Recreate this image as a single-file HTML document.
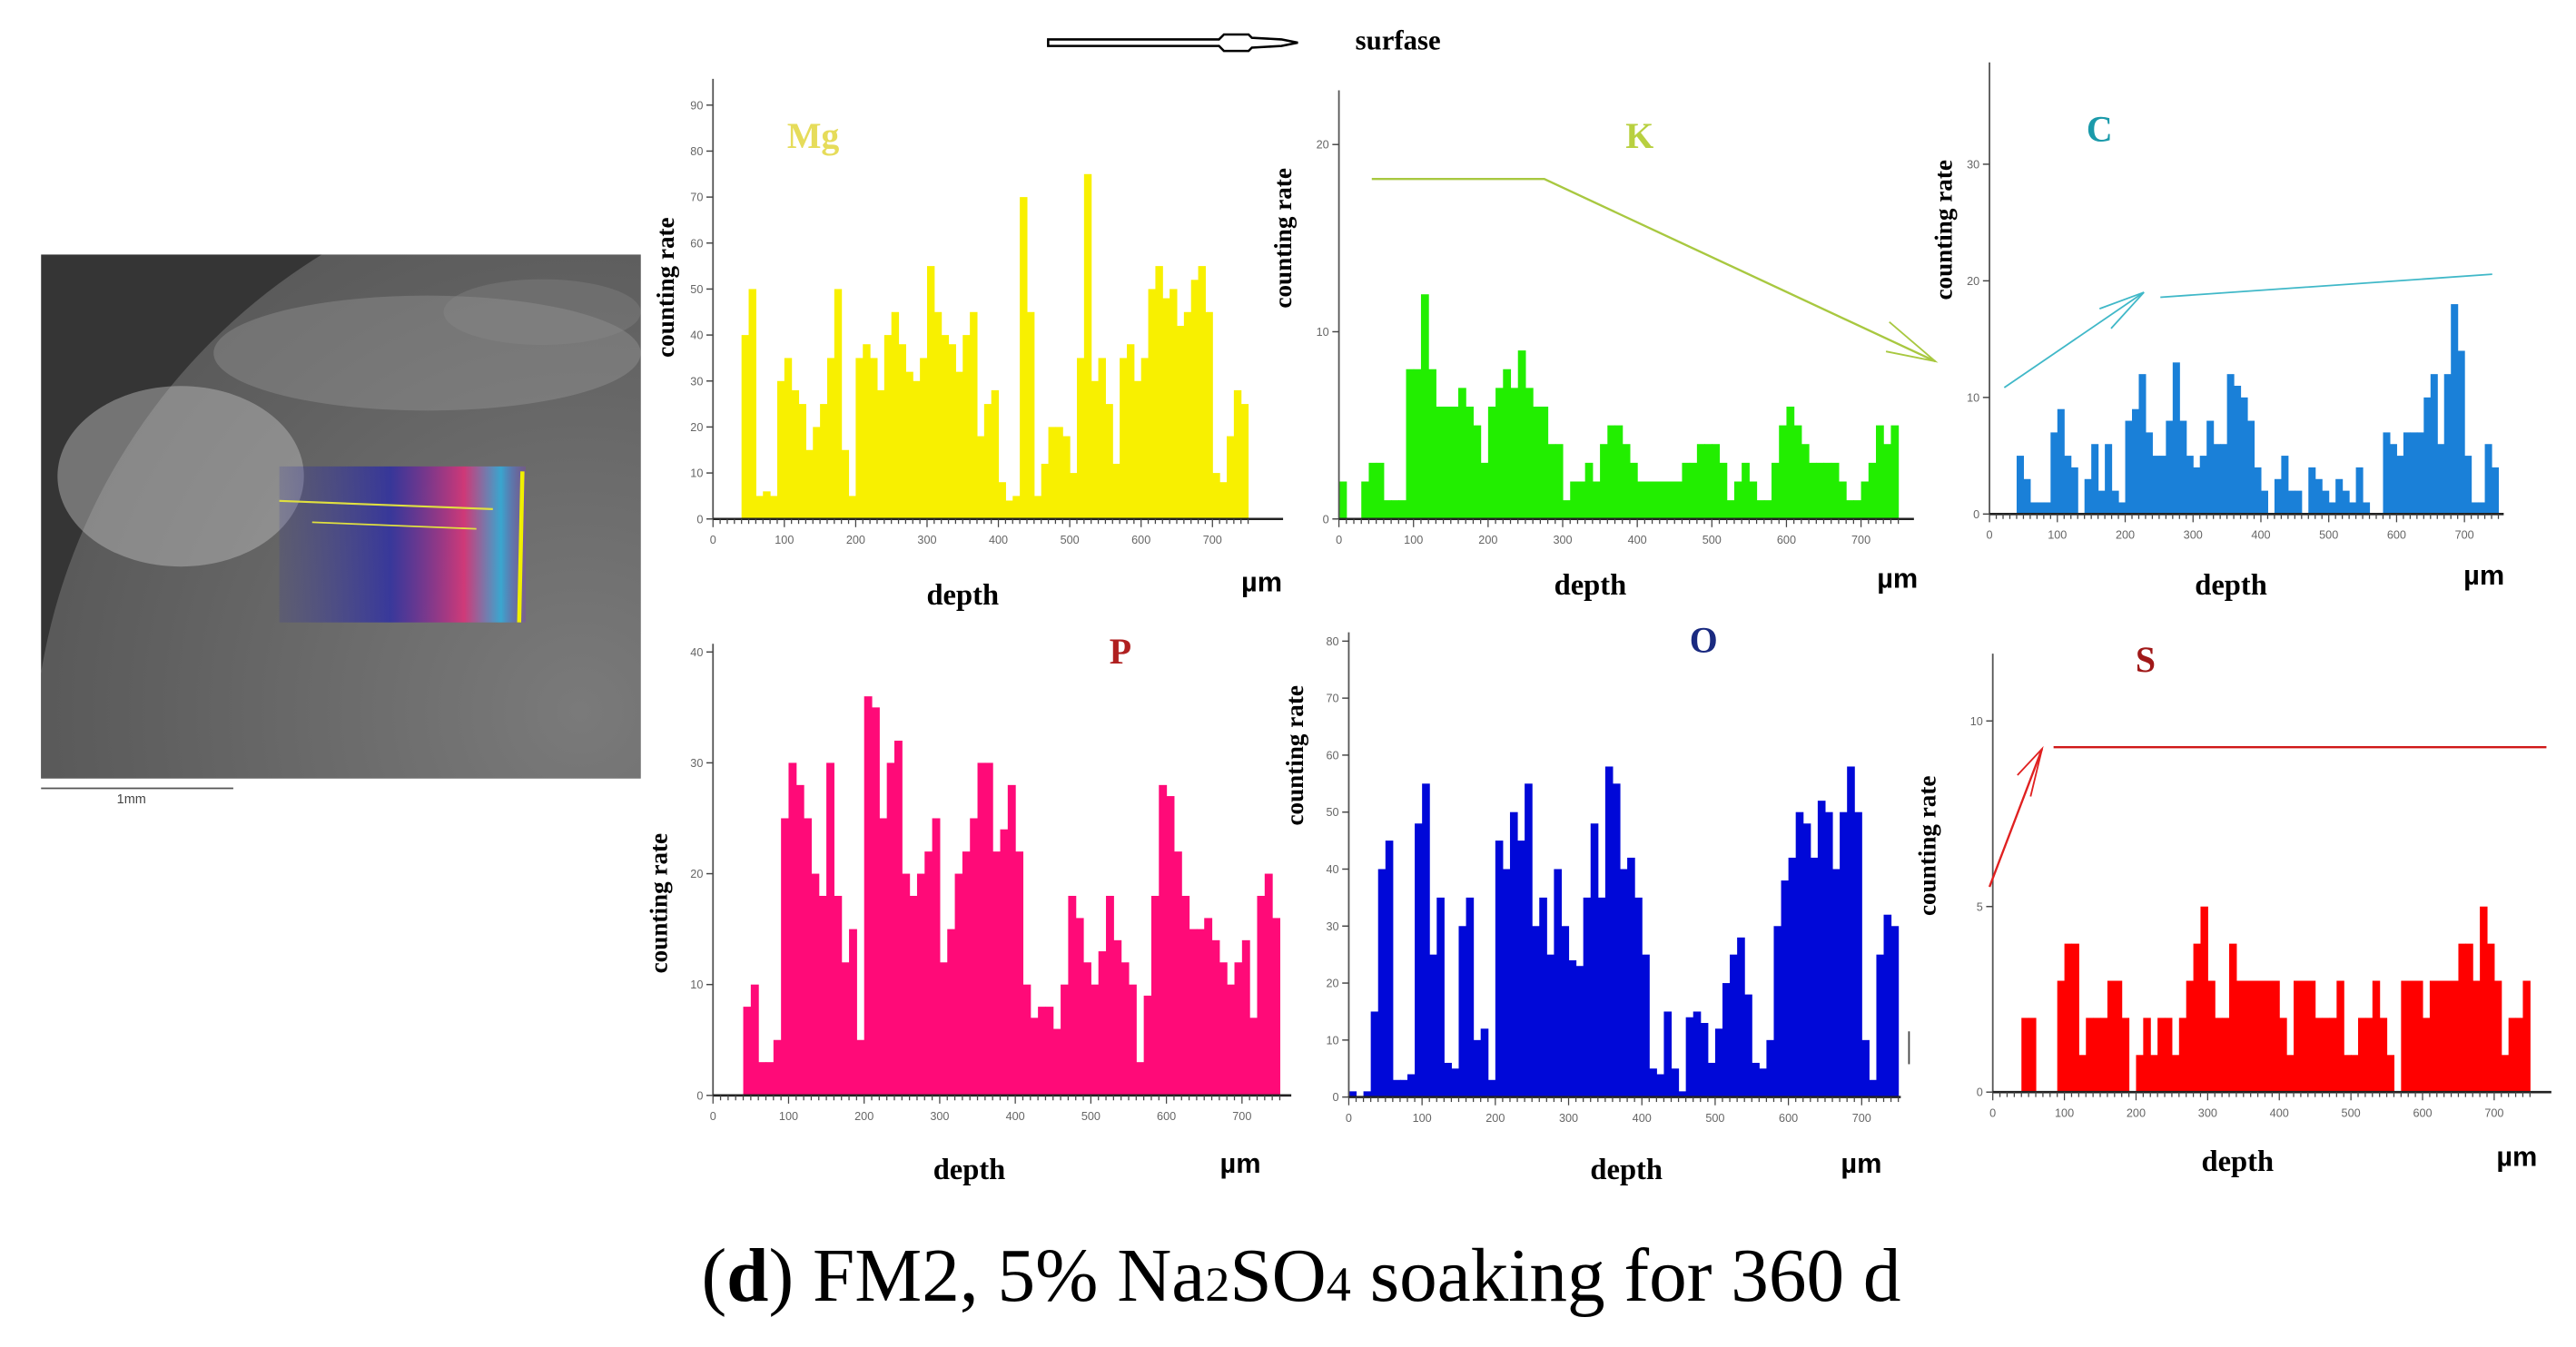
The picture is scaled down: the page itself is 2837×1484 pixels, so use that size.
<!DOCTYPE html>
<html><head><meta charset="utf-8">
<style>
html,body{margin:0;padding:0;background:#fff;}
svg{display:block;}
text{font-family:"Liberation Serif",serif;}
</style></head>
<body>
<svg id="fig" width="2837" height="1484" viewBox="0 0 1568 820.2" xmlns="http://www.w3.org/2000/svg">
<defs>
<radialGradient id="semg" cx="0.45" cy="0.45" r="0.7">
<stop offset="0" stop-color="#7a7a7a"/><stop offset="0.5" stop-color="#606060"/><stop offset="1" stop-color="#484848"/>
</radialGradient>
<linearGradient id="streak" x1="0" x2="1" y1="0" y2="0">
<stop offset="0" stop-color="#3030a0" stop-opacity="0.2"/><stop offset="0.45" stop-color="#2020b0" stop-opacity="0.8"/><stop offset="0.75" stop-color="#e0307a"/><stop offset="0.9" stop-color="#30b0e0"/><stop offset="1" stop-color="#8040c0" stop-opacity="0.4"/>
</linearGradient>
<clipPath id="semclip"><rect x="25" y="155" width="365" height="319"/></clipPath>
</defs>
<g>
<rect x="25" y="155" width="365" height="319" fill="#353535"/>
<g clip-path="url(#semclip)">
<circle cx="390" cy="470" r="370" fill="url(#semg)"/>
<ellipse cx="110" cy="290" rx="75" ry="55" fill="#c0c0c0" opacity="0.45"/>
<ellipse cx="260" cy="215" rx="130" ry="35" fill="#a0a0a0" opacity="0.35"/>
<ellipse cx="330" cy="190" rx="60" ry="20" fill="#909090" opacity="0.3"/>
<rect x="170" y="284" width="150" height="95" fill="url(#streak)" opacity="0.85"/>
<line x1="170" y1="305" x2="300" y2="310" stroke="#e0e040" stroke-width="1.2"/>
<line x1="190" y1="318" x2="290" y2="322" stroke="#e0e040" stroke-width="1"/>
<line x1="318" y1="287" x2="316" y2="379" stroke="#f0f000" stroke-width="2.5"/>
</g>
<line x1="25" y1="480" x2="142" y2="480" stroke="#555" stroke-width="1"/>
<text x="80" y="489" font-size="8" fill="#444" text-anchor="middle" style="font-family:'Liberation Sans',sans-serif">1mm</text>
</g>
<g>
<path d="M638,24 L742,24 L745,21 L760,21 L762,23 L780,24 L790,26 L780,28 L762,29 L760,31 L745,31 L742,28 L638,28 Z" fill="#fff" stroke="#000" stroke-width="1.4"/>
<text x="825" y="30" font-size="17" font-weight="bold">surfase</text>
</g>
<g id="panels"></g>
<text x="792" y="792" font-size="46" text-anchor="middle">(<tspan font-weight="bold">d</tspan>) FM2, 5% Na<tspan font-size="30">2</tspan>SO<tspan font-size="30">4</tspan> soaking for 360 d</text>
</svg>
<script>
var depths = [];
for (var d = 0; d <= 740; d += 10) depths.push(d);
var xTicks = [0,100,200,300,400,500,600,700];
var mgValues = [0,0,0,0,40,50,5,6,5,30,35,28,25,15,20,25,35,50,15,5,35,38,35,28,40,45,38,32,30,35,55,45,40,38,32,40,45,18,25,28,8,4,5,70,45,5,12,20,20,18,10,35,75,30,35,25,12,35,38,30,35,50,55,48,50,42,45,52,55,45,10,8,18,28,25];
var kValues = [2,0,0,2,3,3,1,1,1,8,8,12,8,6,6,6,7,6,5,3,6,7,8,7,9,7,6,6,4,4,1,2,2,3,2,4,5,5,4,3,2,2,2,2,2,2,3,3,4,4,4,3,1,2,3,2,1,1,3,5,6,5,4,3,3,3,3,2,1,1,2,3,5,4,5];
var cValues = [0,0,0,0,5,3,1,1,1,7,9,5,4,0,3,6,2,6,2,1,8,9,12,7,5,5,8,13,8,5,4,5,8,6,6,12,11,10,8,4,2,0,3,5,2,2,0,4,3,2,1,3,2,1,4,1,0,0,7,6,5,7,7,7,10,12,6,12,18,14,5,1,1,6,4];
var pValues = [0,0,0,0,8,10,3,3,5,25,30,28,25,20,18,30,18,12,15,5,36,35,25,30,32,20,18,20,22,25,12,15,20,22,25,30,30,22,24,28,22,10,7,8,8,6,10,18,16,12,10,13,18,14,12,10,3,9,18,28,27,22,18,15,15,16,14,12,10,12,14,7,18,20,16];
var oValues = [1,0,1,15,40,45,3,3,4,48,55,25,35,6,5,30,35,10,12,3,45,40,50,45,55,30,35,25,40,30,24,23,35,48,35,58,55,40,42,35,25,5,4,15,5,1,14,15,13,6,12,20,25,28,18,6,5,10,30,38,42,50,48,42,52,50,40,50,58,50,10,3,25,32,30];
var sValues = [0,0,0,0,2,2,0,0,0,3,4,4,1,2,2,2,3,3,2,0,1,2,1,2,2,1,2,3,4,5,3,2,2,4,3,3,3,3,3,3,2,1,3,3,3,2,2,2,3,1,1,2,2,3,2,1,0,3,3,3,2,3,3,3,3,4,4,3,5,4,3,1,2,2,3];
var mgTicks = [0,10,20,30,40,50,60,70,80,90];
var kTicks = [0,10,20];
var cTicks = [0,10,20,30];
var pTicks = [0,10,20,30,40];
var oTicks = [0,10,20,30,40,50,60,70,80];
var sTicks = [0,5,10];

var NS = "http://www.w3.org/2000/svg";
var root = document.getElementById("panels");
function mk(tag, attrs, parent) {
  var e = document.createElementNS(NS, tag);
  for (var k in attrs) e.setAttribute(k, attrs[k]);
  (parent || root).appendChild(e);
  return e;
}
var panels = [
  {id:"mg", label:"Mg", vals:mgValues, ticks:mgTicks, x0:434, y0:316, kx:0.4343, ky:2.8, top:48, end:781, col:"#f8f000", lc:"#e6dc5a", lx:495, ly:90, crx:410, cry:175, dx:586, dy:368, ux:768, uy:360},
  {id:"k", label:"K", vals:kValues, ticks:kTicks, x0:815, y0:316, kx:0.454, ky:11.4, top:55, end:1165, col:"#22ee00", lc:"#b8d040", lx:998, ly:90, crx:786, cry:145, dx:968, dy:362, ux:1155, uy:358},
  {id:"c", label:"C", vals:cValues, ticks:cTicks, x0:1211, y0:313, kx:0.413, ky:7.1, top:38, end:1524, col:"#1a80d8", lc:"#1a9aaa", lx:1278, ly:86, crx:1188, cry:140, dx:1358, dy:362, ux:1512, uy:356},
  {id:"p", label:"P", vals:pValues, ticks:pTicks, x0:434, y0:667, kx:0.46, ky:6.75, top:392, end:786, col:"#ff0a78", lc:"#b02020", lx:682, ly:404, crx:406, cry:550, dx:590, dy:718, ux:755, uy:714},
  {id:"o", label:"O", vals:oValues, ticks:oTicks, x0:821, y0:668, kx:0.446, ky:3.47, top:385, end:1157, col:"#0008d8", lc:"#1a2a80", lx:1037, ly:397, crx:793, cry:460, dx:990, dy:718, ux:1133, uy:714},
  {id:"s", label:"S", vals:sValues, ticks:sTicks, x0:1213, y0:665, kx:0.436, ky:22.6, top:398, end:1553, col:"#ff0000", lc:"#a01818", lx:1306, ly:409, crx:1178, cry:515, dx:1362, dy:713, ux:1532, uy:710}
];
panels.forEach(function(p){
  var g = mk("g", {});
  
  
  function X(v){ return p.x0 + v * p.kx; }
  function Y(v){ return p.y0 - v * p.ky; }
  var bw = 10 * p.kx;
  p.vals.forEach(function(v, i){
    if (v <= 0) return;
    var r = mk("rect", {x: X(depths[i]).toFixed(2), y: Y(v).toFixed(2), width: (bw + 0.3).toFixed(2), height: (p.y0 - Y(v)).toFixed(2), fill: p.col}, g);
    
    
  });
  var ya = mk("line", {x1:p.x0, y1:p.top, x2:p.x0, y2:p.y0, stroke:"#555", "stroke-width":1}, g);
  
  
  var xa = mk("line", {x1:p.x0, y1:p.y0, x2:p.end, y2:p.y0, stroke:"#222", "stroke-width":1.4}, g);
  
  
  for (var m = 0; m <= 750; m += 10) {
    mk("line", {x1:X(m), y1:p.y0, x2:X(m), y2:p.y0 + (m % 100 === 0 ? 5 : 3), stroke:"#444", "stroke-width":0.7}, g);
  }
  xTicks.forEach(function(t){
    var tx = mk("text", {x:X(t), y:p.y0 + 15, "font-size":7, fill:"#666", "text-anchor":"middle", style:"font-family:'Liberation Sans',sans-serif"}, g);
    tx.textContent = t;
    
    
  });
  p.ticks.forEach(function(t){
    mk("line", {x1:p.x0 - 4, y1:Y(t), x2:p.x0, y2:Y(t), stroke:"#444", "stroke-width":0.8}, g);
    var ty = mk("text", {x:p.x0 - 6, y:Y(t) + 2.5, "font-size":7, fill:"#666", "text-anchor":"end", style:"font-family:'Liberation Sans',sans-serif"}, g);
    ty.textContent = t;
    
    
  });
  var lab = mk("text", {x:p.lx, y:p.ly, "font-size":22, "font-weight":"bold", fill:p.lc, "text-anchor":"middle"}, g);
  lab.textContent = p.label;
  
  
  var cr = mk("text", {x:p.crx, y:p.cry, "font-size":15, "font-weight":"bold", fill:"#000", "text-anchor":"middle", transform:"rotate(-90 " + p.crx + " " + p.cry + ")"}, g);
  cr.textContent = "counting  rate";
  
  
  var dt = mk("text", {x:p.dx, y:p.dy, "font-size":18, "font-weight":"bold", fill:"#000", "text-anchor":"middle"}, g);
  dt.textContent = "depth";
  
  
  var um = mk("text", {x:p.ux, y:p.uy, "font-size":17, "font-weight":"bold", fill:"#000", "text-anchor":"middle", style:"font-family:'Liberation Sans',sans-serif"}, g);
  um.textContent = "µm";
  
  
});
var ann = mk("g", {fill:"none"});


mk("polyline", {points:"835,109 940,109 1178,220", stroke:"#a8c840", "stroke-width":1.3}, ann);
mk("polyline", {points:"1150,196 1178,220 1148,214", stroke:"#a8c840", "stroke-width":1}, ann);
mk("line", {x1:1220, y1:236, x2:1305, y2:178, stroke:"#40b8c8", "stroke-width":1}, ann);
mk("polyline", {points:"1278,188 1305,178 1285,200", stroke:"#40b8c8", "stroke-width":1}, ann);
mk("line", {x1:1315, y1:181, x2:1517, y2:167, stroke:"#40b8c8", "stroke-width":1}, ann);
mk("line", {x1:1211, y1:540, x2:1243, y2:456, stroke:"#e02020", "stroke-width":1.3}, ann);
mk("polyline", {points:"1228,472 1243,456 1236,485", stroke:"#e02020", "stroke-width":1}, ann);
mk("line", {x1:1250, y1:455, x2:1550, y2:455, stroke:"#d01818", "stroke-width":1.3}, ann);
mk("line", {x1:1162, y1:628, x2:1162, y2:648, stroke:"#444", "stroke-width":1}, ann);
</script>
</body></html>
